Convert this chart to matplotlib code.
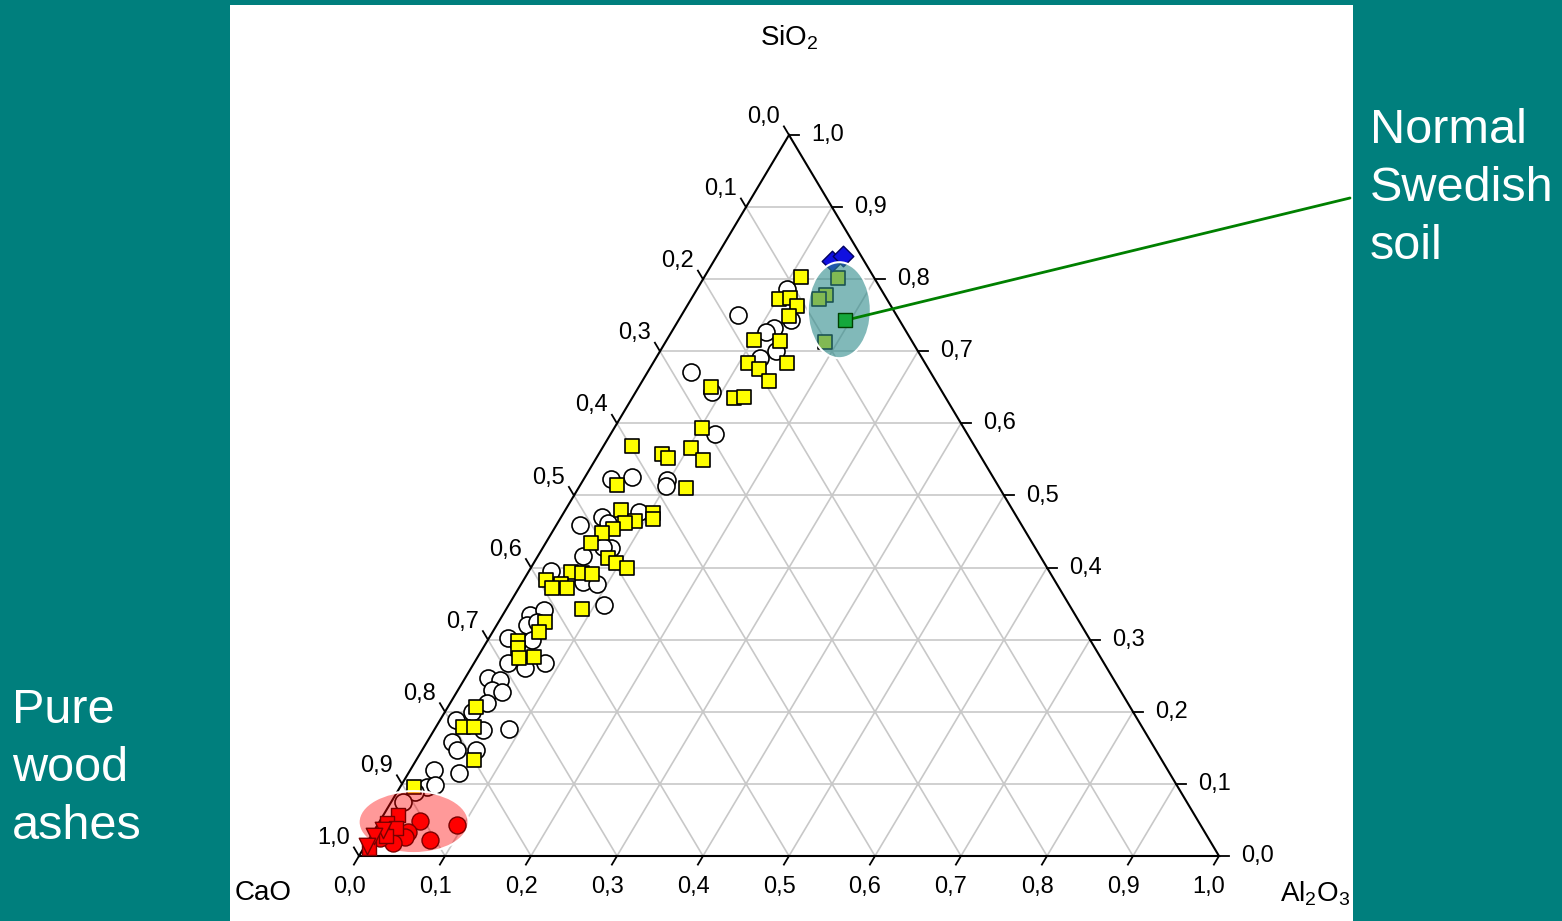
import numpy as np
import matplotlib
matplotlib.use("Agg")
import matplotlib.pyplot as plt
from matplotlib.patches import Ellipse, Rectangle

plt.rcParams['font.family'] = ['Liberation Sans', 'DejaVu Sans']
plt.rcParams['mathtext.fontset'] = 'custom'
plt.rcParams['mathtext.rm'] = 'Liberation Sans'
plt.rcParams['mathtext.default'] = 'regular'

# ---- data: ternary fractions (SiO2, Al2O3); CaO = 1 - SiO2 - Al2O3 ----
circ_sio2 = [0.786, 0.743, 0.732, 0.727, 0.700, 0.691, 0.750, 0.644, 0.671, 0.585,
             0.523, 0.526, 0.521, 0.513, 0.470, 0.459, 0.477, 0.462, 0.416, 0.427,
             0.429, 0.395, 0.380, 0.377, 0.348, 0.334, 0.341, 0.320, 0.325, 0.302,
             0.300, 0.268, 0.261, 0.268, 0.247, 0.244, 0.230, 0.227, 0.212, 0.200,
             0.189, 0.175, 0.176, 0.158, 0.147, 0.147, 0.119, 0.115, 0.096, 0.098,
             0.089, 0.075]
circ_al2o3 = [0.105, 0.131, 0.117, 0.110, 0.135, 0.121, 0.066, 0.088, 0.051, 0.121,
              0.031, 0.054, 0.098, 0.101, 0.048, 0.027, 0.087, 0.059, 0.052, 0.080,
              0.069, 0.026, 0.070, 0.088, 0.111, 0.032, 0.045, 0.035, 0.045, 0.022,
              0.051, 0.039, 0.063, 0.082, 0.026, 0.042, 0.040, 0.053, 0.043, 0.031,
              0.018, 0.057, 0.086, 0.029, 0.040, 0.063, 0.028, 0.059, 0.031, 0.039,
              0.021, 0.014]

sq_sio2 = [0.803, 0.773, 0.774, 0.763, 0.749, 0.716, 0.714, 0.684, 0.675, 0.684,
           0.659, 0.650, 0.635, 0.637, 0.594, 0.569, 0.558, 0.552, 0.566, 0.549,
           0.515, 0.510, 0.480, 0.476, 0.467, 0.465, 0.462, 0.454, 0.448, 0.434,
           0.413, 0.406, 0.399, 0.394, 0.393, 0.391, 0.383, 0.377, 0.372, 0.372,
           0.343, 0.325, 0.311, 0.298, 0.288, 0.275, 0.276, 0.207, 0.179, 0.179,
           0.133, 0.096, 0.802, 0.778, 0.773, 0.713]
sq_al2o3 = [0.112, 0.102, 0.114, 0.128, 0.125, 0.101, 0.133, 0.110, 0.128, 0.156,
            0.147, 0.084, 0.118, 0.129, 0.102, 0.033, 0.073, 0.083, 0.103, 0.126,
            0.043, 0.125, 0.065, 0.104, 0.108, 0.088, 0.078, 0.068, 0.059, 0.053,
            0.083, 0.096, 0.112, 0.050, 0.063, 0.075, 0.026, 0.046, 0.056, 0.038,
            0.088, 0.054, 0.054, 0.036, 0.041, 0.048, 0.065, 0.033, 0.031, 0.044,
            0.067, 0.016, 0.156, 0.154, 0.148, 0.185]

ash_circ_sio2 = [0.049, 0.043, 0.022, 0.033, 0.026, 0.018, 0.025]
ash_circ_al2o3 = [0.046, 0.093, 0.072, 0.040, 0.040, 0.031, 0.012]
ash_sq_sio2 = [0.057, 0.046, 0.039, 0.011, 0.028]
ash_sq_al2o3 = [0.017, 0.010, 0.023, 0.006, 0.017]
ash_tri_sio2 = [0.036, 0.028, 0.014]
ash_tri_al2o3 = [0.010, 0.003, 0.002]

soil_dia_sio2 = [0.825, 0.832]
soil_dia_al2o3 = [0.137, 0.147]
soil_ref_sio2 = [0.743]
soil_ref_al2o3 = [0.194]

tick_vals = np.round(np.arange(0, 1.01, 0.1), 1)
tick_labels = [f"{v:.1f}".replace('.', ',') for v in tick_vals]


def tern(si, al):
    si = np.asarray(si, dtype=float)
    al = np.asarray(al, dtype=float)
    return al + si / 2, si


W, H = 1562, 921
fig = plt.figure(figsize=(W / 100, H / 100), dpi=100, facecolor='#007F7D')
fig.patches.append(Rectangle((230 / W, 0), (1353 - 230) / W, (921 - 5) / H,
                             transform=fig.transFigure, facecolor='white',
                             edgecolor='none', zorder=-1))

ax = fig.add_axes([359 / W, 65 / H, 860 / W, 721 / H])
ax.set_zorder(1)
ax.set_xlim(0, 1)
ax.set_ylim(0, 1)
ax.axis('off')
px, py = 1 / 860, 1 / 721  # one pixel in data units

# grid lines
for f in tick_vals[1:-1]:
    kw = dict(color='#c8c8c8', lw=1.2, zorder=1, clip_on=False)
    ax.plot([f / 2, 1 - f / 2], [f, f], **kw)
    ax.plot([f, f + (1 - f) / 2], [0, 1 - f], **kw)
    ax.plot([1 - f, (1 - f) / 2], [0, 1 - f], **kw)

# triangle
ax.plot([0, 1, 0.5, 0], [0, 0, 1, 0], color='black', lw=1.5, zorder=2,
        clip_on=False, solid_joinstyle='miter')

# ticks and labels
tl = 10
fs = 17
ex, ey = 430 / 839.5 * tl * px, 721 / 839.5 * tl * py
for v, lab in zip(tick_vals, tick_labels):
    # bottom: Al2O3
    ax.plot([v, v - ex], [0, -ey], color='black', lw=1.3, clip_on=False)
    ax.text(v - 10 * px, -31 * py, lab, ha='center', va='center', fontsize=fs)
    # right: SiO2
    xr = 1 - v / 2
    ax.plot([xr, xr + tl * px], [v, v], color='black', lw=1.3, clip_on=False)
    ax.text(xr + 22 * px, v, lab, ha='left', va='center', fontsize=fs)
    # left: CaO
    si = 1 - v
    xl = si / 2
    ax.plot([xl, xl - ex], [si, si + ey], color='black', lw=1.3, clip_on=False)
    ax.text(xl - 9 * px, si + 18 * py, lab, ha='right', va='center', fontsize=fs)

ax.text(0.5, 1 + 97 * py, 'SiO$_2$', ha='center', va='center', fontsize=20)
ax.text(-96 * px, -37 * py, 'CaO', ha='center', va='center', fontsize=20)
ax.text(1 + 96 * px, -38 * py, 'Al$_2$O$_3$', ha='center', va='center', fontsize=20)

# data
x, y = tern(circ_sio2, circ_al2o3)
ax.scatter(x, y, s=150, marker='o', facecolor='white', edgecolor='black',
           linewidth=1.2, zorder=3, clip_on=False)
x, y = tern(sq_sio2, sq_al2o3)
ax.scatter(x, y, s=110, marker='s', facecolor='#FFFF00', edgecolor='black',
           linewidth=1.2, zorder=4, clip_on=False)
x, y = tern(soil_dia_sio2, soil_dia_al2o3)
ax.scatter(x, y, s=110, marker='D', facecolor='#1010E0', edgecolor='#000060',
           linewidth=1.0, zorder=4, clip_on=False)

# highlight ellipses
cx, cy = tern([0.757], [0.180])
ax.add_patch(Ellipse((cx[0], cy[0]), 63 * px, 96 * py, facecolor='#2E8B8B',
                     alpha=0.6, edgecolor='none', zorder=5))
ax.add_patch(Ellipse((cx[0], cy[0]), 63 * px, 96 * py, facecolor='none',
                     edgecolor='white', lw=1.5, zorder=5))
cx, cy = tern([0.047], [0.040])
ax.add_patch(Ellipse((cx[0], cy[0]), 110 * px, 62 * py, facecolor='#FF0000',
                     alpha=0.4, edgecolor='none', zorder=5))
ax.add_patch(Ellipse((cx[0], cy[0]), 110 * px, 62 * py, facecolor='none',
                     edgecolor='white', lw=1.5, zorder=5))

# wood ash markers
x, y = tern(ash_circ_sio2, ash_circ_al2o3)
ax.scatter(x, y, s=150, marker='o', facecolor='#FF0000', edgecolor='#7A0000',
           linewidth=1.0, zorder=6, clip_on=False)
x, y = tern(ash_sq_sio2, ash_sq_al2o3)
ax.scatter(x, y, s=110, marker='s', facecolor='#FF0000', edgecolor='#7A0000',
           linewidth=1.0, zorder=6, clip_on=False)
x, y = tern(ash_tri_sio2, ash_tri_al2o3)
ax.scatter(x, y, s=140, marker='v', facecolor='#FF0000', edgecolor='#7A0000',
           linewidth=1.0, zorder=6, clip_on=False)

# annotations
x, y = tern(soil_ref_sio2, soil_ref_al2o3)
ax.annotate('', xy=(x[0], y[0]), xytext=(1350 / W, 1 - 198 / H),
            textcoords='figure fraction',
            arrowprops=dict(arrowstyle='-', color='#008000', lw=2,
                            shrinkA=0, shrinkB=0), zorder=7)
ax.scatter(x, y, s=110, marker='s', facecolor='#14A83C', edgecolor='#004000',
           linewidth=1.0, zorder=8, clip_on=False)
ax.annotate('', xy=(-1 * px, 0.047), xytext=(165 / W, 1 - 773 / H),
            textcoords='figure fraction',
            arrowprops=dict(arrowstyle='-', color='#FF0000', lw=1.5,
                            shrinkA=0, shrinkB=0), zorder=7)

fig.text(1370 / W, 1 - 108 / H, 'Normal\nSwedish\nsoil', color='white',
         fontsize=35, ha='left', va='top', linespacing=1.37)
fig.text(12 / W, 1 - 688 / H, 'Pure\nwood\nashes', color='white',
         fontsize=35, ha='left', va='top', linespacing=1.37)

fig.savefig('out.png', dpi=100, facecolor=fig.get_facecolor())
